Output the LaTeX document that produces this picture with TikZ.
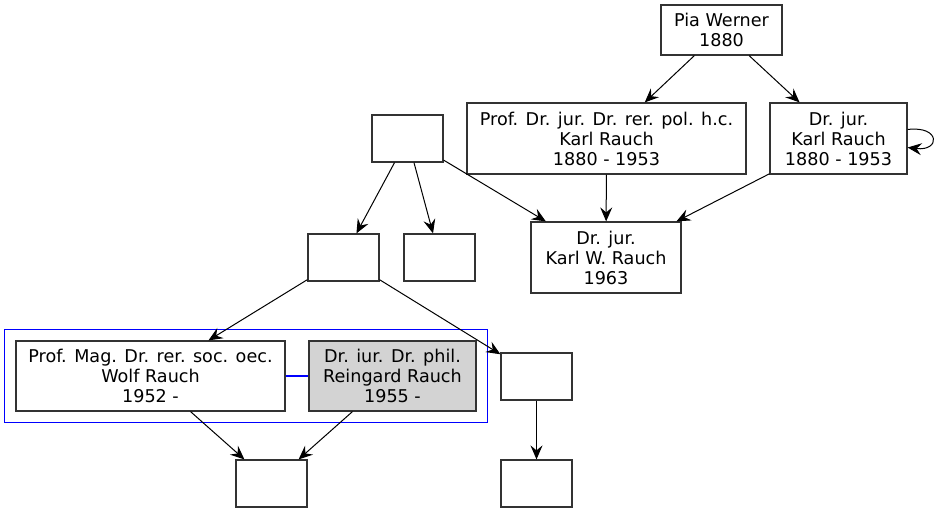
\documentclass[tikz,border=0pt]{standalone}
\usepackage{fontspec}
\setmainfont{DejaVu Sans}
\usetikzlibrary{arrows.meta,fit}
\definecolor{partnerfill}{HTML}{D3D3D3}
\begin{document}
\begin{tikzpicture}[x=1pt,y=-1pt,
  person/.style={draw=black!80,line width=1.2pt,align=center,inner sep=0pt,
    font=\fontsize{17.6}{20}\selectfont},
  blank/.style={person,minimum width=71pt,minimum height=47pt},
  edge/.style={-{Stealth[length=14pt,width=12pt,inset=5pt]},line width=1pt}]
\useasboundingbox (0,0) rectangle (937,513);

% upper generations
\node[person,minimum width=121pt,minimum height=50pt] (pia) at (721.5,30) {Pia Werner\\1880};
\node[person,minimum width=279pt,minimum height=71pt] (profkarl) at (606.5,138.5) {Prof. Dr. jur. Dr. rer. pol. h.c.\\Karl Rauch\\1880 - 1953};
\node[person,minimum width=137pt,minimum height=71pt] (drkarl) at (838.5,138.5) {Dr. jur.\\Karl Rauch\\1880 - 1953};
\node[person,minimum width=150pt,minimum height=71pt] (karlw) at (606,257.5) {Dr. jur.\\Karl W. Rauch\\1963};
\node[blank] (bA) at (407.5,138.5) {};
\node[blank] (bB) at (343.5,257.5) {};
\node[blank] (bC) at (439.5,257.5) {};

% couple
\node[person,minimum width=269pt,minimum height=70pt] (wolf) at (150.5,376) {Prof. Mag. Dr. rer. soc. oec.\\Wolf Rauch\\1952 -};
\node[person,fill=partnerfill,minimum width=167pt,minimum height=70pt] (reingard) at (392.5,376) {Dr. iur. Dr. phil.\\Reingard Rauch\\1955 -};
\node[draw=blue,line width=1pt,inner sep=11pt,fit=(wolf)(reingard)] (couple) {};
\node[blank] (bD) at (536.5,376.5) {};
\node[blank] (bE) at (271.5,483.5) {};
\node[blank] (bF) at (536.5,483.5) {};

\draw[edge] (pia) -- (profkarl);
\draw[edge] (pia) -- (drkarl);
\draw[edge] ([yshift=9pt]drkarl.east) .. controls +(33pt,4pt) and +(33pt,-4pt) .. ([yshift=-9pt]drkarl.east);
\draw[edge] (profkarl) -- (karlw);
\draw[edge] (drkarl) -- (karlw);
\draw[edge] (bA) -- (karlw);
\draw[edge] (bA) -- (bB);
\draw[edge] (bA) -- (bC);
\draw[edge] (bB) -- (wolf);
\draw[edge] (bB) -- (bD);
\draw[blue,line width=2.4pt] (wolf) -- (reingard);
\draw[edge] (wolf) -- (bE);
\draw[edge] (reingard) -- (bE);
\draw[edge] (bD) -- (bF);

\end{tikzpicture}
\end{document}
